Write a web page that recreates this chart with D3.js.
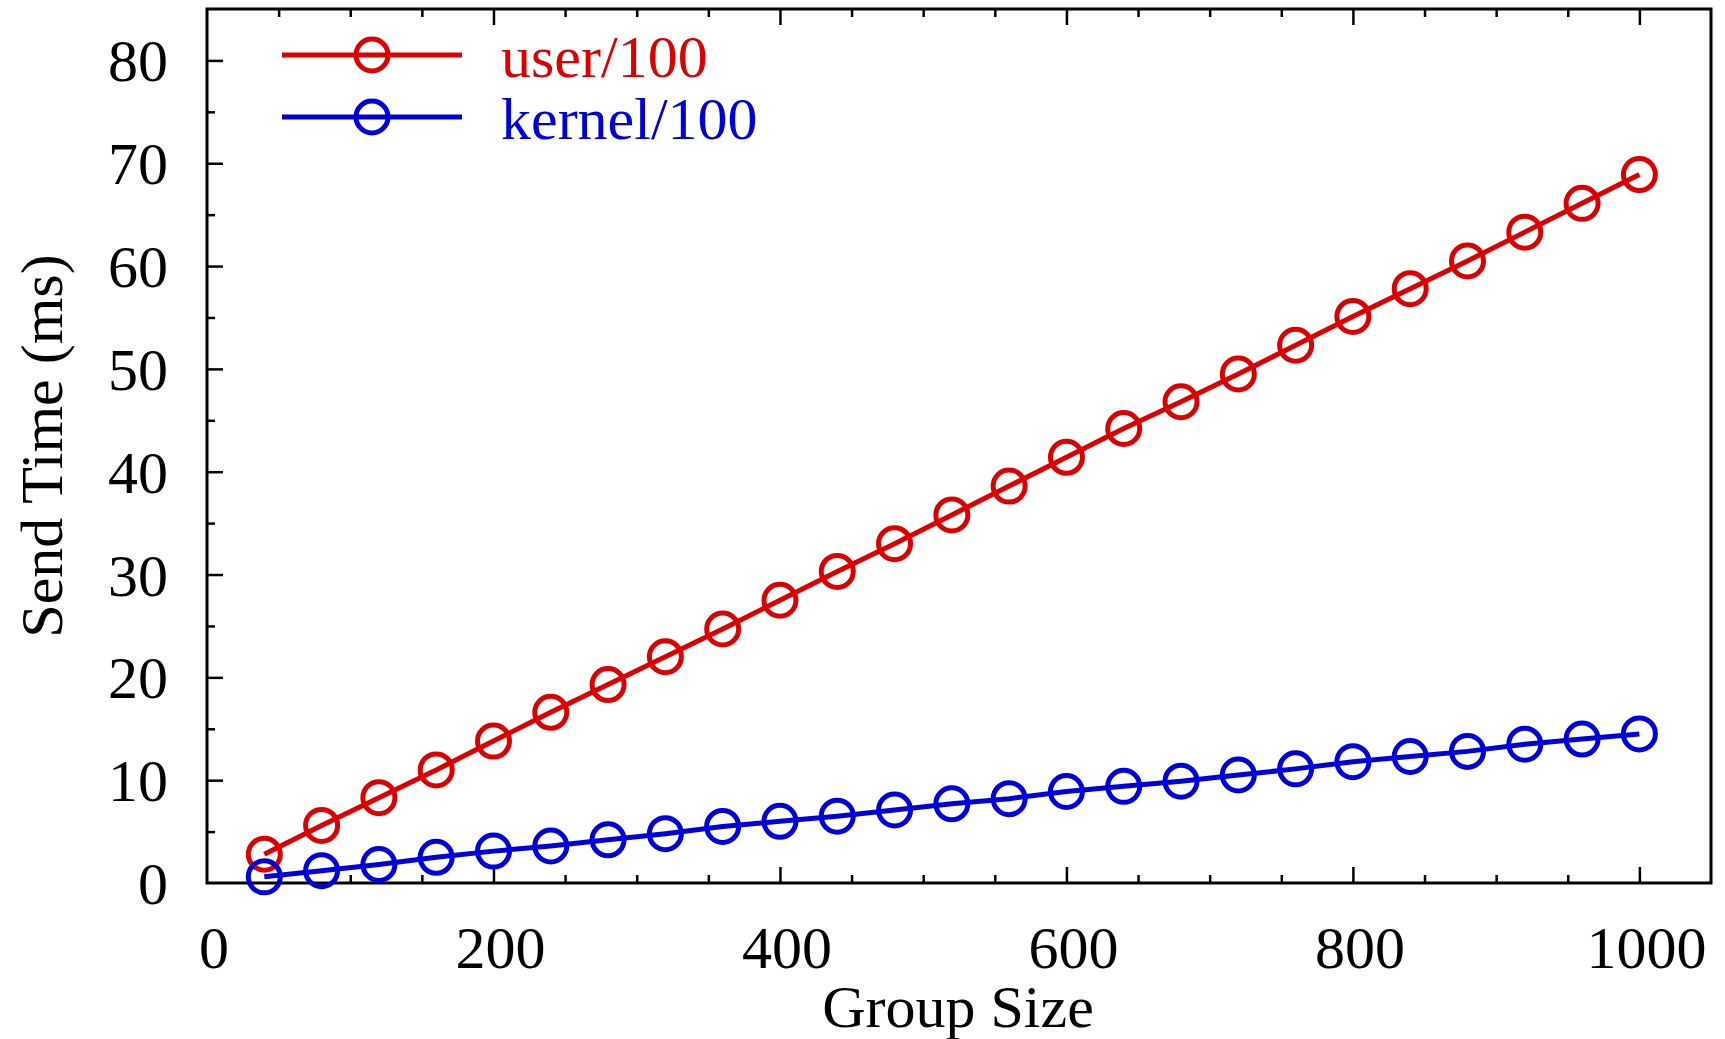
<!DOCTYPE html>
<html>
<head>
<meta charset="utf-8">
<script src="https://cdn.jsdelivr.net/npm/d3@7"></script>
<style>
  body { margin: 0; background: #fff; }
  text { font-family: "Liberation Serif", "Times New Roman", serif; }
</style>
</head>
<body>
<div id="chart"></div>
<script>
var groupSizes = [40, 80, 120, 160, 200, 240, 280, 320, 360, 400, 440, 480, 520,
                  560, 600, 640, 680, 720, 760, 800, 840, 880, 920, 960, 1000];
var userTimes = [2.8, 5.6, 8.3, 11.0, 13.8, 16.6, 19.3, 22.0, 24.7, 27.5, 30.3, 33.0, 35.8,
                 38.6, 41.4, 44.2, 46.8, 49.5, 52.3, 55.1, 57.8, 60.5, 63.3, 66.1, 68.9];
var kernelTimes = [0.6, 1.2, 1.8, 2.5, 3.1, 3.6, 4.2, 4.8, 5.5, 6.0, 6.5, 7.1, 7.7,
                   8.2, 8.9, 9.4, 9.9, 10.5, 11.1, 11.8, 12.3, 12.8, 13.5, 14.0, 14.5];
var seriesNames = ["user/100", "kernel/100"];
var xTickLabels = [0, 200, 400, 600, 800, 1000];
var yTickLabels = [0, 10, 20, 30, 40, 50, 60, 70, 80];

var w = 1725;
var h = 1039;
var plotLeft = 207, plotRight = 1711, plotTop = 9, plotBottom = 883;
var colors = ["#dd0000", "#0000dd"];

var svg = d3.select("#chart")
  .append("svg")
  .attr("width", w)
  .attr("height", h);

var xScale = d3.scaleLinear()
  .domain([0, 1050])
  .range([plotLeft, plotRight]);

var yScale = d3.scaleLinear()
  .domain([0, 85])
  .range([plotBottom, plotTop]);

// minor ticks every 50 / 5, long ones on labelled values
var xTicks = d3.range(50, 1050, 50);
var yTicks = d3.range(5, 85, 5);

svg.append("g")
  .attr("transform", "translate(0," + plotBottom + ")")
  .call(d3.axisBottom(xScale).tickValues(xTicks).tickSize(0).tickFormat(""))
  .call(function(g) { g.select(".domain").remove(); })
  .selectAll(".tick line")
  .attr("y2", function(d) { return d % 200 === 0 ? -16 : -8; })
  .attr("stroke", "#000")
  .attr("stroke-width", 2.5);

svg.append("g")
  .attr("transform", "translate(0," + plotTop + ")")
  .call(d3.axisTop(xScale).tickValues(xTicks).tickSize(0).tickFormat(""))
  .call(function(g) { g.select(".domain").remove(); })
  .selectAll(".tick line")
  .attr("y2", function(d) { return d % 200 === 0 ? 16 : 8; })
  .attr("stroke", "#000")
  .attr("stroke-width", 2.5);

svg.append("g")
  .attr("transform", "translate(" + plotLeft + ",0)")
  .call(d3.axisLeft(yScale).tickValues(yTicks).tickSize(0).tickFormat(""))
  .call(function(g) { g.select(".domain").remove(); })
  .selectAll(".tick line")
  .attr("x2", function(d) { return d % 10 === 0 ? 16 : 8; })
  .attr("stroke", "#000")
  .attr("stroke-width", 2.5);

// tick labels
svg.selectAll(".xlab")
  .data(xTickLabels)
  .enter()
  .append("text")
  .attr("class", "xlab")
  .attr("x", function(d) { return xScale(d) + 7; })
  .attr("y", 968)
  .attr("text-anchor", "middle")
  .attr("font-size", "60px")
  .text(function(d) { return d; });

svg.selectAll(".ylab")
  .data(yTickLabels)
  .enter()
  .append("text")
  .attr("class", "ylab")
  .attr("x", 168)
  .attr("y", function(d) { return yScale(d); })
  .attr("dy", "0.35em")
  .attr("text-anchor", "end")
  .attr("font-size", "60px")
  .text(function(d) { return d; });

// frame
svg.append("rect")
  .attr("x", plotLeft)
  .attr("y", plotTop)
  .attr("width", plotRight - plotLeft)
  .attr("height", plotBottom - plotTop)
  .attr("fill", "none")
  .attr("stroke", "#000")
  .attr("stroke-width", 3);

var series = [userTimes, kernelTimes];

var line = d3.line()
  .x(function(d, i) { return xScale(groupSizes[i]); })
  .y(function(d) { return yScale(d); });

series.forEach(function(values, k) {
  svg.append("path")
    .datum(values)
    .attr("fill", "none")
    .attr("stroke", colors[k])
    .attr("stroke-width", 5)
    .attr("d", line);

  svg.selectAll(".pt" + k)
    .data(values)
    .enter()
    .append("circle")
    .attr("class", "pt" + k)
    .attr("cx", function(d, i) { return xScale(groupSizes[i]); })
    .attr("cy", function(d) { return yScale(d); })
    .attr("r", 16)
    .attr("fill", "none")
    .attr("stroke", colors[k])
    .attr("stroke-width", 5);
});

// legend
seriesNames.forEach(function(name, k) {
  var ly = 55 + k * 62;
  svg.append("line")
    .attr("x1", 282).attr("x2", 462)
    .attr("y1", ly).attr("y2", ly)
    .attr("stroke", colors[k])
    .attr("stroke-width", 5);
  svg.append("circle")
    .attr("cx", 372).attr("cy", ly)
    .attr("r", 16)
    .attr("fill", "none")
    .attr("stroke", colors[k])
    .attr("stroke-width", 5);
  svg.append("text")
    .attr("x", 501)
    .attr("y", ly)
    .attr("dy", "0.36em")
    .attr("font-size", "60px")
    .attr("fill", colors[k])
    .text(name);
});

// axis titles
svg.append("text")
  .text("Group Size")
  .attr("x", 958)
  .attr("y", 1027)
  .attr("text-anchor", "middle")
  .attr("font-size", "60px");

svg.append("text")
  .text("Send Time (ms)")
  .attr("transform", "rotate(-90)")
  .attr("x", -446)
  .attr("y", 62)
  .attr("text-anchor", "middle")
  .attr("font-size", "60px");
</script>
</body>
</html>
